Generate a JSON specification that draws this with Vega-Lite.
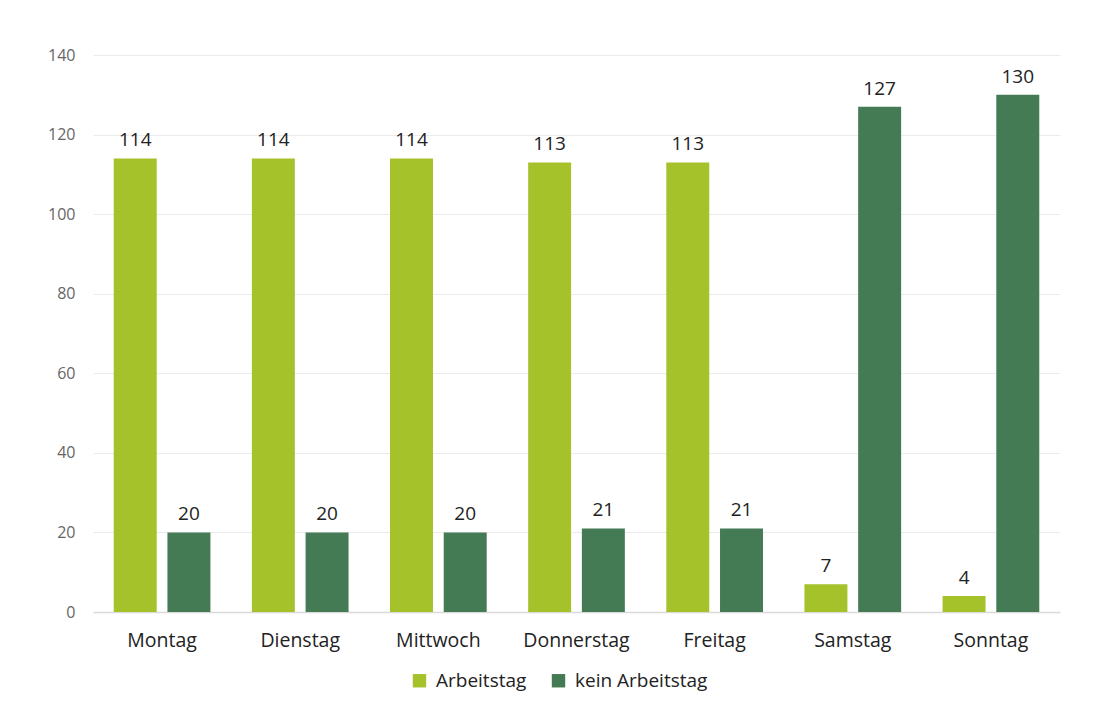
{
  "$schema": "https://vega.github.io/schema/vega-lite/v6.json",
  "autosize": "none",
  "width": 967,
  "height": 557,
  "padding": {"left": 93, "top": 55, "right": 33, "bottom": 95},
  "background": "white",
  "config": {
    "font": "Open Sans",
    "view": {"stroke": null},
    "axis": {"labelFont": "Open Sans"},
    "legend": {"labelFont": "Open Sans"}
  },
  "data": {
    "values": [
      {"tag": "Montag", "typ": "Arbeitstag", "wert": 114},
      {"tag": "Montag", "typ": "kein Arbeitstag", "wert": 20},
      {"tag": "Dienstag", "typ": "Arbeitstag", "wert": 114},
      {"tag": "Dienstag", "typ": "kein Arbeitstag", "wert": 20},
      {"tag": "Mittwoch", "typ": "Arbeitstag", "wert": 114},
      {"tag": "Mittwoch", "typ": "kein Arbeitstag", "wert": 20},
      {"tag": "Donnerstag", "typ": "Arbeitstag", "wert": 113},
      {"tag": "Donnerstag", "typ": "kein Arbeitstag", "wert": 21},
      {"tag": "Freitag", "typ": "Arbeitstag", "wert": 113},
      {"tag": "Freitag", "typ": "kein Arbeitstag", "wert": 21},
      {"tag": "Samstag", "typ": "Arbeitstag", "wert": 7},
      {"tag": "Samstag", "typ": "kein Arbeitstag", "wert": 127},
      {"tag": "Sonntag", "typ": "Arbeitstag", "wert": 4},
      {"tag": "Sonntag", "typ": "kein Arbeitstag", "wert": 130}
    ]
  },
  "encoding": {
    "x": {
      "field": "tag", "type": "nominal", "sort": null,
      "scale": {"paddingInner": 0.3, "paddingOuter": 0.15},
      "axis": {"title": null, "labelAngle": 0, "labelFontSize": 19.5, "labelColor": "#222222", "labelPadding": 19, "ticks": false, "domainColor": "#d9d9d9", "domainWidth": 1.5}
    },
    "xOffset": {"field": "typ", "type": "nominal", "scale": {"paddingInner": 0.2}},
    "y": {
      "field": "wert", "type": "quantitative",
      "scale": {"domain": [0, 140]},
      "axis": {"title": null, "values": [0, 20, 40, 60, 80, 100, 120, 140], "labelFontSize": 16, "labelColor": "#666666", "labelPadding": 18, "ticks": false, "domain": false, "gridColor": "#ebebeb"}
    }
  },
  "layer": [
    {
      "mark": {"type": "bar"},
      "encoding": {
        "color": {
          "field": "typ", "type": "nominal",
          "scale": {"domain": ["Arbeitstag", "kein Arbeitstag"], "range": ["#a5c22b", "#447b55"]},
          "legend": {"title": null, "orient": "none", "legendX": 317, "legendY": 616, "direction": "horizontal", "symbolType": "square", "symbolSize": 180, "symbolStrokeWidth": 0, "labelFontSize": 19, "labelColor": "#222222", "labelOffset": 7, "columnPadding": 22}
        }
      }
    },
    {
      "mark": {"type": "text", "baseline": "bottom", "dy": -8, "fontSize": 19, "color": "#222222"},
      "encoding": {"text": {"field": "wert", "type": "quantitative"}}
    }
  ]
}
